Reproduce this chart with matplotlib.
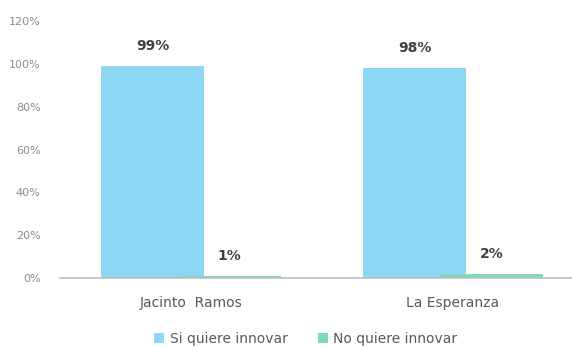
import numpy as np
import matplotlib.pyplot as plt

plt.rcParams['font.family'] = ['DejaVu Sans']

comunidades = ['Jacinto  Ramos', 'La Esperanza']
si_innovar = [99, 98]
no_innovar = [1, 2]
series = ['Si quiere innovar', 'No quiere innovar']
colores = ['#8dd7f5', '#7fd9c0']

fig = plt.figure(figsize=(5.72, 3.47), dpi=100)
ax = fig.add_axes([60 / 572, 1 - 278 / 347, 512 / 572, 257 / 347])

x = np.arange(len(comunidades))
w = 0.393
d = 0.147
b1 = ax.bar(x - d, si_innovar, w, color=colores[0], label=series[0])
b2 = ax.bar(x + d, no_innovar, w, color=colores[1], label=series[1])

# etiquetas de porcentaje sobre cada barra
for barras in (b1, b2):
    for r in barras:
        ax.annotate(f'{r.get_height():.0f}%',
                    (r.get_x() + r.get_width() / 2, r.get_height()),
                    xytext=(0, 14.5), textcoords='offset points',
                    ha='center', va='center', fontsize=10,
                    fontweight='bold', color='#404040')

ax.set_xlim(-0.5, 1.454)
ax.set_ylim(0, 120)
ax.set_yticks(range(0, 121, 20))
ax.set_yticklabels([f'{v}%' for v in range(0, 121, 20)])
ax.set_xticks(x)
ax.set_xticklabels(comunidades)

for s in ['top', 'right', 'left']:
    ax.spines[s].set_visible(False)
ax.spines['bottom'].set_color('#bfbfbf')
ax.spines['bottom'].set_linewidth(1.2)
ax.tick_params(axis='y', length=0, labelsize=8, labelcolor='#8c8c8c', pad=14)
ax.tick_params(axis='x', length=0, labelsize=10, labelcolor='#595959', pad=13)

fig.legend(loc='lower center', bbox_to_anchor=(0.535, -0.032), ncol=2,
           frameon=False, fontsize=10, labelcolor='#595959',
           handlelength=0.7, handleheight=0.7, handletextpad=0.4,
           columnspacing=2.2)

plt.savefig('out.png')
